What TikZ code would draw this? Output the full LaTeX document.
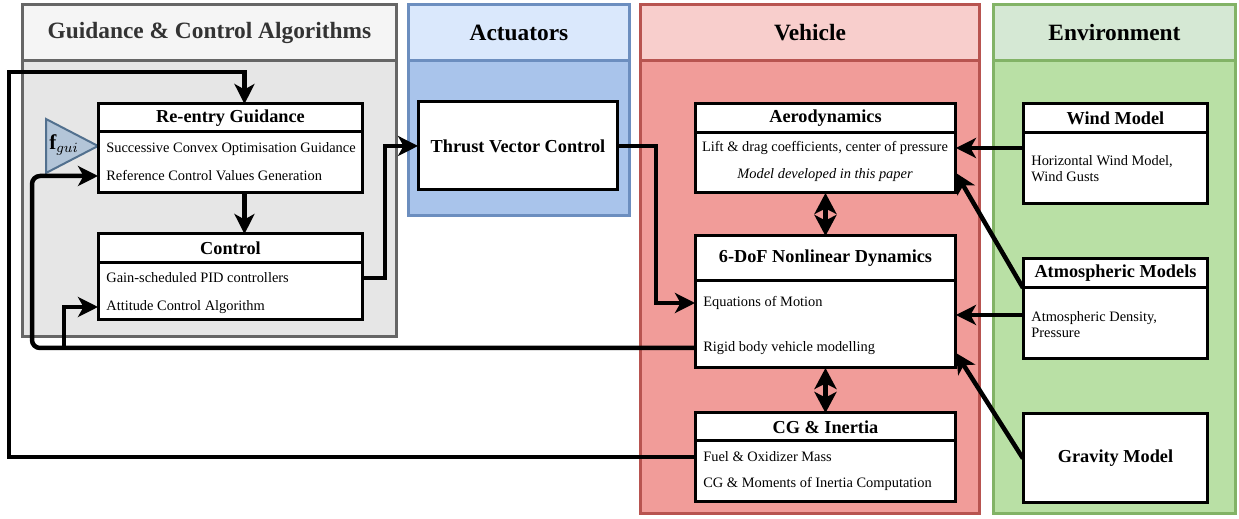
\documentclass[tikz,border=0pt]{standalone}
\usepackage{fontspec}
\setmainfont{Liberation Serif}
\usepackage{amsmath}
\usetikzlibrary{arrows.meta,positioning}

\definecolor{gcHead}{HTML}{F5F5F5}
\definecolor{gcBody}{HTML}{E6E6E6}
\definecolor{gcLine}{HTML}{666666}
\definecolor{gcText}{HTML}{333333}
\definecolor{acHead}{HTML}{DAE8FC}
\definecolor{acBody}{HTML}{A9C4EB}
\definecolor{acLine}{HTML}{6C8EBF}
\definecolor{veHead}{HTML}{F8CECC}
\definecolor{veBody}{HTML}{F19C99}
\definecolor{veLine}{HTML}{B85450}
\definecolor{enHead}{HTML}{D5E8D4}
\definecolor{enBody}{HTML}{B9E0A5}
\definecolor{enLine}{HTML}{82B366}
\definecolor{triFill}{HTML}{B3C5D8}
\definecolor{triLine}{HTML}{52708E}

\begin{document}
\begin{tikzpicture}[x=0.02cm, y=-0.02cm, >={Stealth[length=0.4cm, width=0.4cm, inset=0.11cm]}]
		\tikzstyle{panelhead} = [draw, line width=0.06cm, inner sep=0pt, outer sep=0pt, minimum height=1.12cm, anchor=north west, font=\fontsize{13.3}{15}\selectfont\bfseries]
		\tikzstyle{panelbody} = [draw, line width=0.06cm, inner sep=0pt, outer sep=0pt]
		\tikzstyle{boxhead} = [draw, fill=white, line width=0.06cm, inner sep=0pt, outer sep=0pt, anchor=north west, font=\fontsize{10.4}{12}\selectfont\bfseries]
		\tikzstyle{boxbody} = [draw, fill=white, line width=0.06cm, inner sep=0pt, outer sep=0pt]
		\tikzstyle{txt} = [inner sep=0pt, anchor=west, font=\fontsize{8.2}{9.1}\selectfont]
		\tikzstyle{link} = [->, line width=0.09cm]
		\tikzstyle{dlink} = [{Stealth[length=0.42cm, width=0.44cm, inset=0.11cm]}-{Stealth[length=0.42cm, width=0.44cm, inset=0.11cm]}, line width=0.09cm]

		\useasboundingbox (0,0) rectangle (1239,519);

		% panels
		\node[panelhead, fill=gcHead, draw=gcLine, text=gcText, minimum width=7.5cm] (gchead) at (22,5) {Guidance \& Control Algorithms};
		\node[panelbody, fill=gcBody, draw=gcLine, minimum width=7.5cm, minimum height=5.52cm, below=0pt of gchead] (gcbody) {};
		\node[panelhead, fill=acHead, draw=acLine, minimum width=4.44cm] (achead) at (408,5) {Actuators};
		\node[panelbody, fill=acBody, draw=acLine, minimum width=4.44cm, minimum height=3.1cm, below=0pt of achead] (acbody) {};
		\node[panelhead, fill=veHead, draw=veLine, minimum width=6.8cm] (vehead) at (640,5) {Vehicle};
		\node[panelbody, fill=veBody, draw=veLine, minimum width=6.8cm, minimum height=9.06cm, below=0pt of vehead] (vebody) {};
		\node[panelhead, fill=enHead, draw=enLine, minimum width=4.86cm] (enhead) at (993,5) {Environment};
		\node[panelbody, fill=enBody, draw=enLine, minimum width=4.86cm, minimum height=9.06cm, below=0pt of enhead] (enbody) {};

		% guidance and control
		\draw[fill=triFill, draw=triLine, line width=0.04cm] (46,119) -- (98,146) -- (46,173) -- cycle;
		\node[font=\fontsize{12}{13}\selectfont] (fgui) at (64,145) {$\mathbf{f}_{gui}$};

		\node[boxhead, minimum width=5.3cm, minimum height=0.56cm] (rghead) at (98,104) {Re-entry Guidance};
		\node[boxbody, minimum width=5.3cm, minimum height=1.22cm, below=0pt of rghead] (rgbody) {};
		\node[txt] (sco) at (106,149) {Successive Convex Optimisation Guidance};
		\node[txt] (rcv) at (106,176) {Reference Control Values Generation};

		\node[boxhead, minimum width=5.3cm, minimum height=0.58cm] (cthead) at (98,234) {Control};
		\node[boxbody, minimum width=5.3cm, minimum height=1.14cm, below=0pt of cthead] (ctbody) {};
		\node[txt] (gsp) at (106,278) {Gain-scheduled PID controllers};
		\node[txt] (aca) at (106,307) {Attitude Control Algorithm};

		% actuators
		\node[boxhead, minimum width=4.0cm, minimum height=1.76cm] (tvc) at (418,102) {Thrust Vector Control};

		% vehicle
		\node[boxhead, minimum width=5.22cm, minimum height=0.58cm] (aehead) at (695,104) {Aerodynamics};
		\node[boxbody, minimum width=5.22cm, minimum height=1.2cm, below=0pt of aehead] (aebody) {};
		\node[txt, anchor=center] (ldc) at (825,148) {Lift \& drag coefficients, center of pressure};
		\node[txt, anchor=center, font=\fontsize{8.2}{9.1}\selectfont\itshape] (mdp) at (825,175) {Model developed in this paper};

		\node[boxhead, minimum width=5.22cm, minimum height=0.9cm] (dynhead) at (695,236) {6-DoF Nonlinear Dynamics};
		\node[boxbody, minimum width=5.22cm, minimum height=1.74cm, below=0pt of dynhead] (dynbody) {};
		\node[txt] (eom) at (703,303) {Equations of Motion};
		\node[txt] (rbm) at (703,348) {Rigid body vehicle modelling};

		\node[boxhead, minimum width=5.22cm, minimum height=0.56cm] (cghead) at (695,413) {CG \& Inertia};
		\node[boxbody, minimum width=5.22cm, minimum height=1.22cm, below=0pt of cghead] (cgbody) {};
		\node[txt] (fom) at (703,457) {Fuel \& Oxidizer Mass};
		\node[txt] (cgm) at (703,484) {CG \& Moments of Inertia Computation};

		% environment
		\node[boxhead, minimum width=3.7cm, minimum height=0.58cm] (wdhead) at (1023,104) {Wind Model};
		\node[boxbody, minimum width=3.7cm, minimum height=1.42cm, below=0pt of wdhead] (wdbody) {};
		\node[txt, align=left] (hwm) at (1031,169) {Horizontal Wind Model,\\Wind Gusts};

		\node[boxhead, minimum width=3.7cm, minimum height=0.58cm] (amhead) at (1023,259) {Atmospheric Models};
		\node[boxbody, minimum width=3.7cm, minimum height=1.42cm, below=0pt of amhead] (ambody) {};
		\node[txt, align=left] (adp) at (1031,325) {Atmospheric Density,\\Pressure};

		\node[boxhead, minimum width=3.7cm, minimum height=1.78cm] (gm) at (1023,414) {Gravity Model};

		% connections
		\coordinate (lft) at (9,72);
		\coordinate (fbk) at (32,250);
		\coordinate (brn) at (64,348);
		\coordinate (act) at (385,200);
		\coordinate (tvo) at (656,250);

		\draw[link] ([xshift=0.28cm]rgbody.south) -- ([xshift=0.28cm]cthead.north);
		\draw[link] (cgbody.west |- fom) -| (lft) -| ([xshift=0.28cm]rghead.north);
		\draw[link, rounded corners=0.16cm] (dynbody.west |- rbm) -| (fbk) |- (rgbody.west |- rcv);
		\draw[link] (brn) |- (ctbody.west |- aca);
		\draw[link] (ctbody.east |- gsp) -| (act) |- (tvc.west);
		\draw[link] (tvc.east) -| (tvo) |- (dynbody.west |- eom);
		\draw[dlink] (aebody) -- (dynhead);
		\draw[dlink] (dynbody) -- (cghead);
		\draw[link] (wdbody.west |- ldc) -- (aebody.east |- ldc);
		\draw[link] (ambody.north west) -- ([yshift=0.04cm]aebody.east |- mdp);
		\draw[link] ([yshift=0.17cm]ambody.west) -- ([yshift=0.17cm]ambody.west -| dynbody.east);
		\draw[link] (gm.west) -- ([yshift=-0.1cm]rbm -| dynbody.east);
\end{tikzpicture}
\end{document}
